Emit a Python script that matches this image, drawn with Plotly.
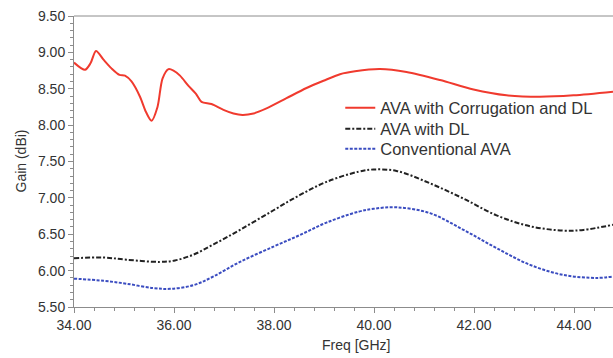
import plotly.graph_objects as go

# Red: AVA with Corrugation and DL
freq_red = [34.00, 34.22, 34.33, 34.44, 34.59, 34.75, 34.91, 35.02, 35.15, 35.32, 35.44, 35.55,
            35.67, 35.77, 35.89, 35.99, 36.12, 36.29, 36.44, 36.55, 36.75, 36.99, 37.19, 37.37,
            37.59, 37.85, 38.25, 38.65, 38.99, 39.32, 39.62, 40.12, 40.65, 41.32, 41.99, 42.65,
            43.32, 43.99, 44.78]
gain_red = [8.86, 8.76, 8.85, 9.02, 8.90, 8.78, 8.69, 8.68, 8.60, 8.39, 8.18, 8.06,
            8.25, 8.64, 8.77, 8.75, 8.68, 8.54, 8.43, 8.32, 8.29, 8.21, 8.16, 8.14,
            8.16, 8.23, 8.37, 8.51, 8.61, 8.70, 8.74, 8.77, 8.73, 8.62, 8.49, 8.41,
            8.39, 8.41, 8.46]

# Black: AVA with DL
freq_blk = [34.00, 34.59, 35.05, 35.72, 36.02, 36.39, 36.79, 37.32, 37.99, 38.52, 39.05, 39.69,
            39.99, 40.45, 41.12, 41.79, 42.45, 43.12, 43.79, 44.19, 44.78]
gain_blk = [6.17, 6.18, 6.15, 6.12, 6.14, 6.22, 6.36, 6.56, 6.83, 7.04, 7.22, 7.36,
            7.39, 7.37, 7.20, 6.99, 6.76, 6.61, 6.55, 6.56, 6.63]

# Blue: Conventional AVA
freq_blu = [34.00, 34.59, 35.05, 35.59, 35.92, 36.39, 36.79, 37.32, 37.99, 38.52, 39.05, 39.69,
            39.99, 40.45, 41.12, 41.79, 42.45, 43.12, 43.79, 44.45, 44.78]
gain_blu = [5.89, 5.86, 5.82, 5.76, 5.75, 5.80, 5.92, 6.12, 6.33, 6.49, 6.66, 6.81,
            6.85, 6.87, 6.79, 6.56, 6.31, 6.08, 5.94, 5.90, 5.92]

y_ticks = [5.5, 6.0, 6.5, 7.0, 7.5, 8.0, 8.5, 9.0, 9.5]
x_ticks = [34, 36, 38, 40, 42, 44]

FONT = "Liberation Sans, Arial, sans-serif"
TXT = "#333333"
AX = "#8c8c8c"

fig = go.Figure()
fig.add_trace(go.Scatter(x=freq_red, y=gain_red, mode="lines", name="AVA with Corrugation and DL",
                         legend="legend",
                         line=dict(color="#f03a2e", width=2, shape="spline", smoothing=0.8)))
fig.add_trace(go.Scatter(x=freq_blk, y=gain_blk, mode="lines", name="AVA with DL",
                         legend="legend2",
                         line=dict(color="#222222", width=2, dash="5px,2px,2px,2px", shape="spline")))
fig.add_trace(go.Scatter(x=freq_blu, y=gain_blu, mode="lines", name="Conventional AVA",
                         legend="legend3",
                         line=dict(color="#3a4cc0", width=2, dash="3px,1.5px", shape="spline")))

def leg(yc):
    return dict(x=0.494, y=yc, xanchor="left", yanchor="middle",
                font=dict(family=FONT, size=16.5, color=TXT),
                bgcolor="rgba(0,0,0,0)", itemwidth=30)

fig.update_layout(
    width=613, height=358,
    margin=dict(l=74, r=0, t=16, b=51),
    paper_bgcolor="white", plot_bgcolor="white",
    font=dict(family=FONT, size=14, color=TXT),
    showlegend=True,
    legend=leg(0.684),
    legend2=leg(0.612),
    legend3=leg(0.543),
    xaxis=dict(range=[34, 44.78], tickvals=x_ticks, ticktext=[f"{v:.2f}" for v in x_ticks],
               automargin=False,
               showgrid=False, zeroline=False, showline=True, linecolor=AX, linewidth=1,
               ticks="outside", ticklen=5, tickcolor=AX,
               tickfont=dict(family=FONT, size=14, color=TXT),
               minor=dict(dtick=0.4, ticks="outside", ticklen=3, tickcolor=AX)),
    yaxis=dict(range=[5.5, 9.5], tickvals=y_ticks, ticktext=[f"{v:.2f}" for v in y_ticks],
               automargin=False,
               showgrid=False, zeroline=False, showline=True, linecolor=AX, linewidth=1,
               ticks="outside", ticklen=5, tickcolor=AX,
               tickfont=dict(family=FONT, size=14, color=TXT),
               minor=dict(dtick=0.1, ticks="outside", ticklen=3, tickcolor=AX)),
    annotations=[
        dict(text="Freq [GHz]", xref="paper", yref="paper", x=0.523, y=0,
             xanchor="center", yanchor="middle", yshift=-38, showarrow=False,
             font=dict(family=FONT, size=14, color=TXT)),
        dict(text="Gain (dBi)", xref="paper", yref="paper", x=0, y=0.5,
             xanchor="center", yanchor="middle", xshift=-54, textangle=-90, showarrow=False,
             font=dict(family=FONT, size=14, color=TXT)),
    ],
)
# top border line
fig.add_shape(type="line", xref="paper", yref="paper", x0=0, x1=1, y0=1, y1=1,
              line=dict(color=AX, width=1))

fig.write_html("out.html", config={"displayModeBar": False},
               post_script="document.body.style.margin='0';document.body.style.overflow='hidden';")
